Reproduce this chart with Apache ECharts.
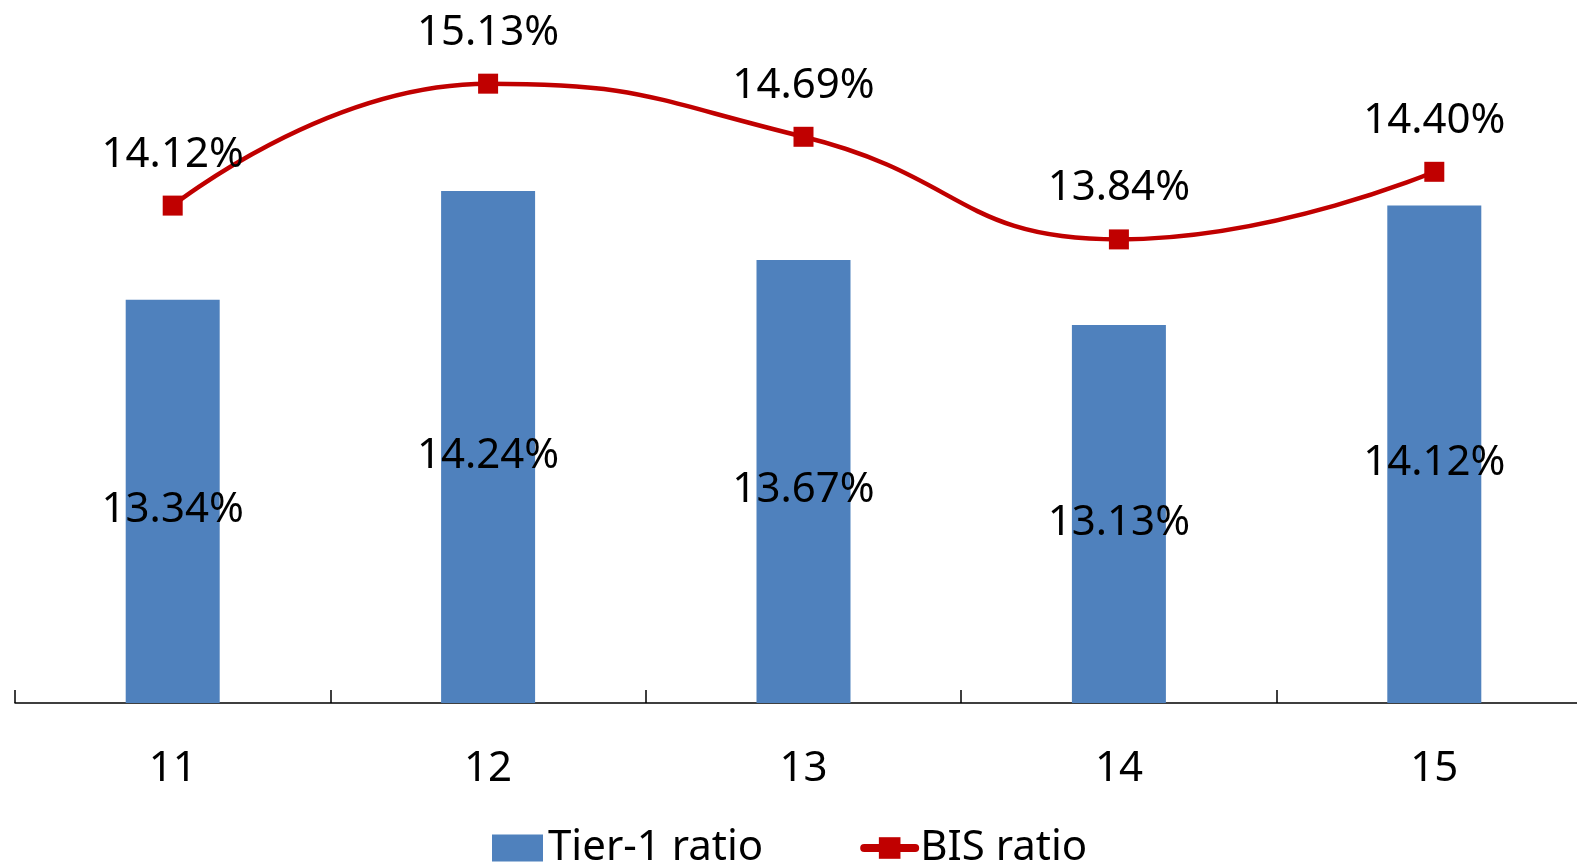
<!DOCTYPE html>
<html>
<head>
<meta charset="utf-8">
<script src="https://cdn.jsdelivr.net/npm/echarts@6/dist/echarts.min.js"></script>
<style>
  html, body { margin: 0; padding: 0; background: #fff; }
  #chart { width: 1577px; height: 865px; }
</style>
</head>
<body>
<div id="chart"></div>
<script>
// Capital adequacy ratios by period
const categories = ['11', '12', '13', '14', '15'];
const tier1Ratio = [13.34, 14.24, 13.67, 13.13, 14.12];
const bisRatio = [14.12, 15.13, 14.69, 13.84, 14.40];

const FONT = '"Noto Sans", "DejaVu Sans", sans-serif';
const pct = p => p.value.toFixed(2) + '%';

const chart = echarts.init(document.getElementById('chart'));
chart.setOption({
  animation: false,
  textStyle: { fontFamily: FONT },
  grid: { left: 15, top: 39, width: 1577, height: 664, outerBoundsMode: 'none', containLabel: false },
  legend: {
    left: 487,
    top: 822,
    itemWidth: 51,
    itemHeight: 27,
    itemGap: 97,
    textStyle: { fontFamily: FONT, fontSize: 42, color: '#000' },
    data: [
      { name: 'Tier-1 ratio', icon: 'rect' },
      { name: 'BIS ratio', lineStyle: { width: 8, cap: 'round' } }
    ]
  },
  xAxis: {
    type: 'category',
    data: categories,
    axisLine: { lineStyle: { color: '#000', width: 1.5 } },
    axisTick: { show: true, inside: true, length: 13, lineStyle: { color: '#000', width: 1.5 } },
    axisLabel: { fontFamily: FONT, fontSize: 42, color: '#000', margin: 45 }
  },
  yAxis: {
    type: 'value',
    min: 10,
    max: 15.5,
    show: false,
    splitLine: { show: false }
  },
  series: [
    {
      name: 'Tier-1 ratio',
      type: 'bar',
      data: tier1Ratio,
      barWidth: 94,
      itemStyle: { color: '#4F81BD' },
      label: {
        show: true,
        position: 'inside',
        offset: [0, 9],
        formatter: pct,
        fontFamily: FONT,
        fontSize: 42,
        color: '#000'
      }
    },
    {
      name: 'BIS ratio',
      type: 'line',
      data: bisRatio,
      smooth: 0.5,
      symbol: 'rect',
      symbolSize: 20,
      lineStyle: { color: '#C00000', width: 4.5 },
      itemStyle: { color: '#C00000' },
      label: {
        show: true,
        position: 'top',
        distance: 20,
        formatter: pct,
        fontFamily: FONT,
        fontSize: 42,
        color: '#000'
      }
    }
  ]
});
</script>
</body>
</html>
